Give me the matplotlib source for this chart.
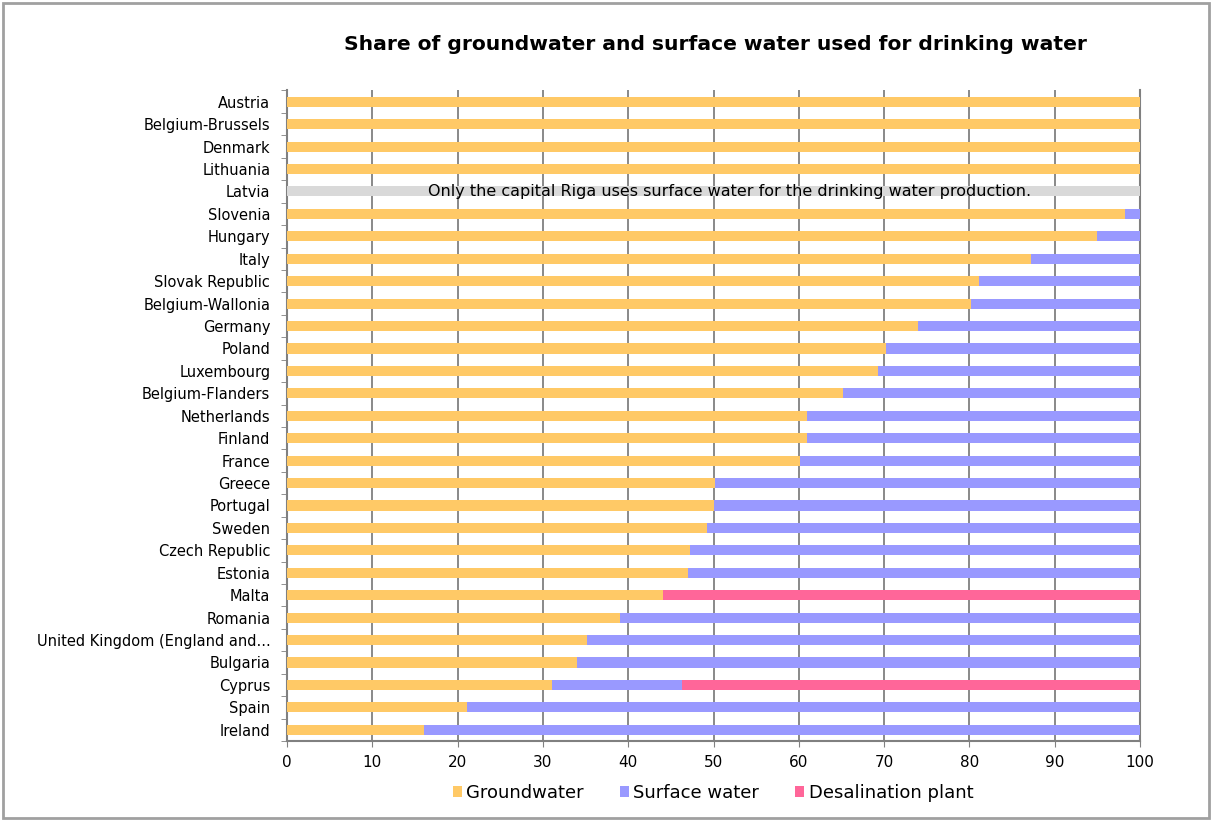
import matplotlib
matplotlib.use("Agg")
import matplotlib.pyplot as plt
from matplotlib.patches import Rectangle
import numpy as np

plt.rcParams['font.family'] = ['DejaVu Sans']

countries = ["Austria", "Belgium-Brussels", "Denmark", "Lithuania", "Latvia", "Slovenia",
             "Hungary", "Italy", "Slovak Republic", "Belgium-Wallonia", "Germany", "Poland",
             "Luxembourg", "Belgium-Flanders", "Netherlands", "Finland", "France", "Greece",
             "Portugal", "Sweden", "Czech Republic", "Estonia", "Malta", "Romania",
             "United Kingdom (England and...", "Bulgaria", "Cyprus", "Spain", "Ireland"]
groundwater = [100, 100, 100, 100, 0, 98.2, 95, 87.2, 81.1, 80.2, 74, 70.2, 69.3, 65.2,
               61, 61, 60.1, 50.2, 50, 49.2, 47.2, 47, 44.1, 39, 35.2, 34, 31.1, 21.1, 16.1]
surface = [0, 0, 0, 0, 0, 1.8, 5, 12.8, 18.9, 19.8, 26, 29.8, 30.7, 34.8,
           39, 39, 39.9, 49.8, 50, 50.8, 52.8, 53, 0, 61, 64.8, 66, 15.2, 78.9, 83.9]
desalination = [0, 0, 0, 0, 0, 0, 0, 0, 0, 0, 0, 0, 0, 0,
                0, 0, 0, 0, 0, 0, 0, 0, 55.9, 0, 0, 0, 53.7, 0, 0]
latvia_note = [0, 0, 0, 0, 100, 0, 0, 0, 0, 0, 0, 0, 0, 0,
               0, 0, 0, 0, 0, 0, 0, 0, 0, 0, 0, 0, 0, 0, 0]
note_text = "Only the capital Riga uses surface water for the drinking water production."
xticks = [0, 10, 20, 30, 40, 50, 60, 70, 80, 90, 100]

c_ground = "#FFC966"
c_surface = "#9999FF"
c_desal = "#FF6699"
c_note = "#D9D9D9"

fig = plt.figure(figsize=(12.12, 8.21), dpi=100)
ax = fig.add_axes([287/1212, 1-741/821, (1140-287)/1212, (741-90.5)/821])

n = len(countries)
y = np.arange(n)
g = np.array(groundwater)
s = np.array(surface)
d = np.array(desalination)
h = 0.45
ax.barh(y, latvia_note, height=h, color=c_note, zorder=3)
ax.barh(y, g, height=h, color=c_ground, zorder=3, label="Groundwater")
ax.barh(y, s, left=g, height=h, color=c_surface, zorder=3, label="Surface water")
ax.barh(y, d, left=g + s, height=h, color=c_desal, zorder=3, label="Desalination plant")

ax.text(16.5, countries.index("Latvia"), note_text, va="center", ha="left",
        fontsize=11.5, color="black", zorder=4)

ax.set_ylim(n - 0.5, -0.5)
ax.set_xlim(0, 100)
ax.set_xticks(xticks)
ax.set_xticklabels([str(v) for v in xticks], fontsize=11)
ax.set_yticks(y)
ax.set_yticklabels(countries, fontsize=10.5)
ax.tick_params(axis='y', length=0, pad=12)
ax.set_yticks(np.arange(n + 1) - 0.5, minor=True)
ax.tick_params(axis='y', which='minor', length=4, color="#808080")
ax.tick_params(axis='x', length=4, color="#808080", pad=6)

for v in xticks[1:]:
    ax.axvline(v, color="#808080", lw=1.3, zorder=1)

ax.spines['top'].set_visible(False)
ax.spines['right'].set_color("#808080")
ax.spines['right'].set_linewidth(1.5)
for sp in ['left', 'bottom']:
    ax.spines[sp].set_color("#808080")
    ax.spines[sp].set_linewidth(1.5)

fig.text(715/1212, 1 - 45/821, "Share of groundwater and surface water used for drinking water",
         ha="center", va="center", fontsize=14.6, fontweight="bold")

handles, labels = ax.get_legend_handles_labels()
fig.legend(handles, labels, loc="center", bbox_to_anchor=(713/1212, 1 - 793/821),
           ncol=3, frameon=False, fontsize=13, handlelength=0.5, handleheight=0.5,
           handletextpad=0.25, columnspacing=2.0)

fig.patches.append(Rectangle((3/1212, 3/821), 1 - 6/1212, 1 - 6/821,
                             transform=fig.transFigure, fill=False,
                             edgecolor="#A0A0A0", lw=2))

fig.savefig("out.png", dpi=100)
